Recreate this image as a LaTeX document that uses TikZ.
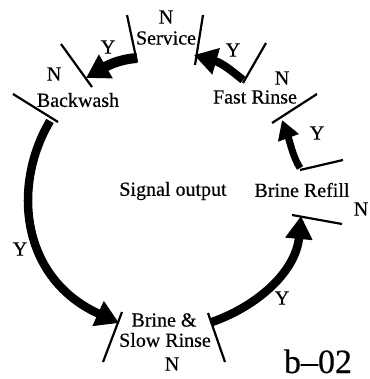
\documentclass[tikz,border=0pt]{standalone}
\usepackage{fontspec}
\setmainfont[FakeBold=0.4]{Liberation Serif}
\usetikzlibrary{arrows.meta}
\begin{document}
\begin{tikzpicture}[x=1pt,y=-1pt,
  lbl/.style={font=\fontsize{20}{20}\selectfont, inner sep=0pt, anchor=center},
  tick/.style={line width=2.2pt},
  flow/.style={line width=#1, -{Triangle[length=23pt,width=26pt]}},
  flow/.default=8pt]
\useasboundingbox (0,0) rectangle (369,379);
% labels
\node[lbl] (sig) at (173,191) {Signal output};
\node[lbl] (srv) at (166,38) {Service};
\node[lbl] (bw) at (78,100) {Backwash};
\node[lbl] (fr) at (255,97) {Fast Rinse};
\node[lbl] (br) at (302,190) {Brine Refill};
\node[lbl] (bs1) at (164,320) {Brine \&};
\node[lbl] (bs2) at (165,340) {Slow Rinse};
\node[lbl] (n1) at (166,17) {N};
\node[lbl] (n2) at (54,74) {N};
\node[lbl] (n3) at (282,78) {N};
\node[lbl] (n4) at (361,209) {N};
\node[lbl] (n5) at (172,364) {N};
\node[lbl] (y1) at (108,47) {Y};
\node[lbl] (y2) at (233,50) {Y};
\node[lbl] (y3) at (317,133) {Y};
\node[lbl] (y4) at (20,249) {Y};
\node[lbl] (y5) at (282,298) {Y};
\node[font=\fontsize{34}{34}\selectfont, inner sep=0pt, anchor=base] (id) at (318,373) {b--02};
% tick lines
\coordinate (sa1) at (127,15); \coordinate (sa2) at (137,62);
\coordinate (sb1) at (203,15); \coordinate (sb2) at (195,65);
\coordinate (ba1) at (61,44);  \coordinate (ba2) at (92,87);
\coordinate (bb1) at (13,94);  \coordinate (bb2) at (58,122);
\coordinate (fa1) at (266,43); \coordinate (fa2) at (243,83);
\coordinate (fb1) at (317,94); \coordinate (fb2) at (272,123);
\coordinate (ra1) at (300,170); \coordinate (ra2) at (343,160);
\coordinate (rb1) at (292,215); \coordinate (rb2) at (342,224);
\coordinate (la1) at (122,312); \coordinate (la2) at (103,362);
\coordinate (lb1) at (208,313); \coordinate (lb2) at (225,362);
\foreach \a/\b in {sa1/sa2,sb1/sb2,ba1/ba2,bb1/bb2,fa1/fa2,fb1/fb2,ra1/ra2,rb1/rb2,la1/la2,lb1/lb2}
  \draw[tick] (\a) -- (\b);
% flow arrows
\coordinate (t1) at (137,58);  \coordinate (h1) at (86,78);
\coordinate (t2) at (243,80);  \coordinate (h2) at (194,55);
\coordinate (t3) at (300,168); \coordinate (h3) at (282,120);
\coordinate (t4) at (50,121);  \coordinate (h4) at (119,323);
\coordinate (t5) at (212,322); \coordinate (h5) at (301,216);
\draw[flow=10pt] (t1) .. controls (122,59) and (110,64) .. (h1);
\draw[flow=8pt] (t2) .. controls (232,71) and (222,63) .. (h2);
\draw[flow=7pt, -{Triangle[length=19pt,width=21pt]}] (t3) .. controls (293,157) and (290,142) .. (h3);
\draw[flow=8.5pt] (t4) .. controls (12,185) and (20,278) .. (h4);
\draw[flow=8.5pt] (t5) .. controls (260,305) and (296,270) .. (h5);
\end{tikzpicture}
\end{document}
